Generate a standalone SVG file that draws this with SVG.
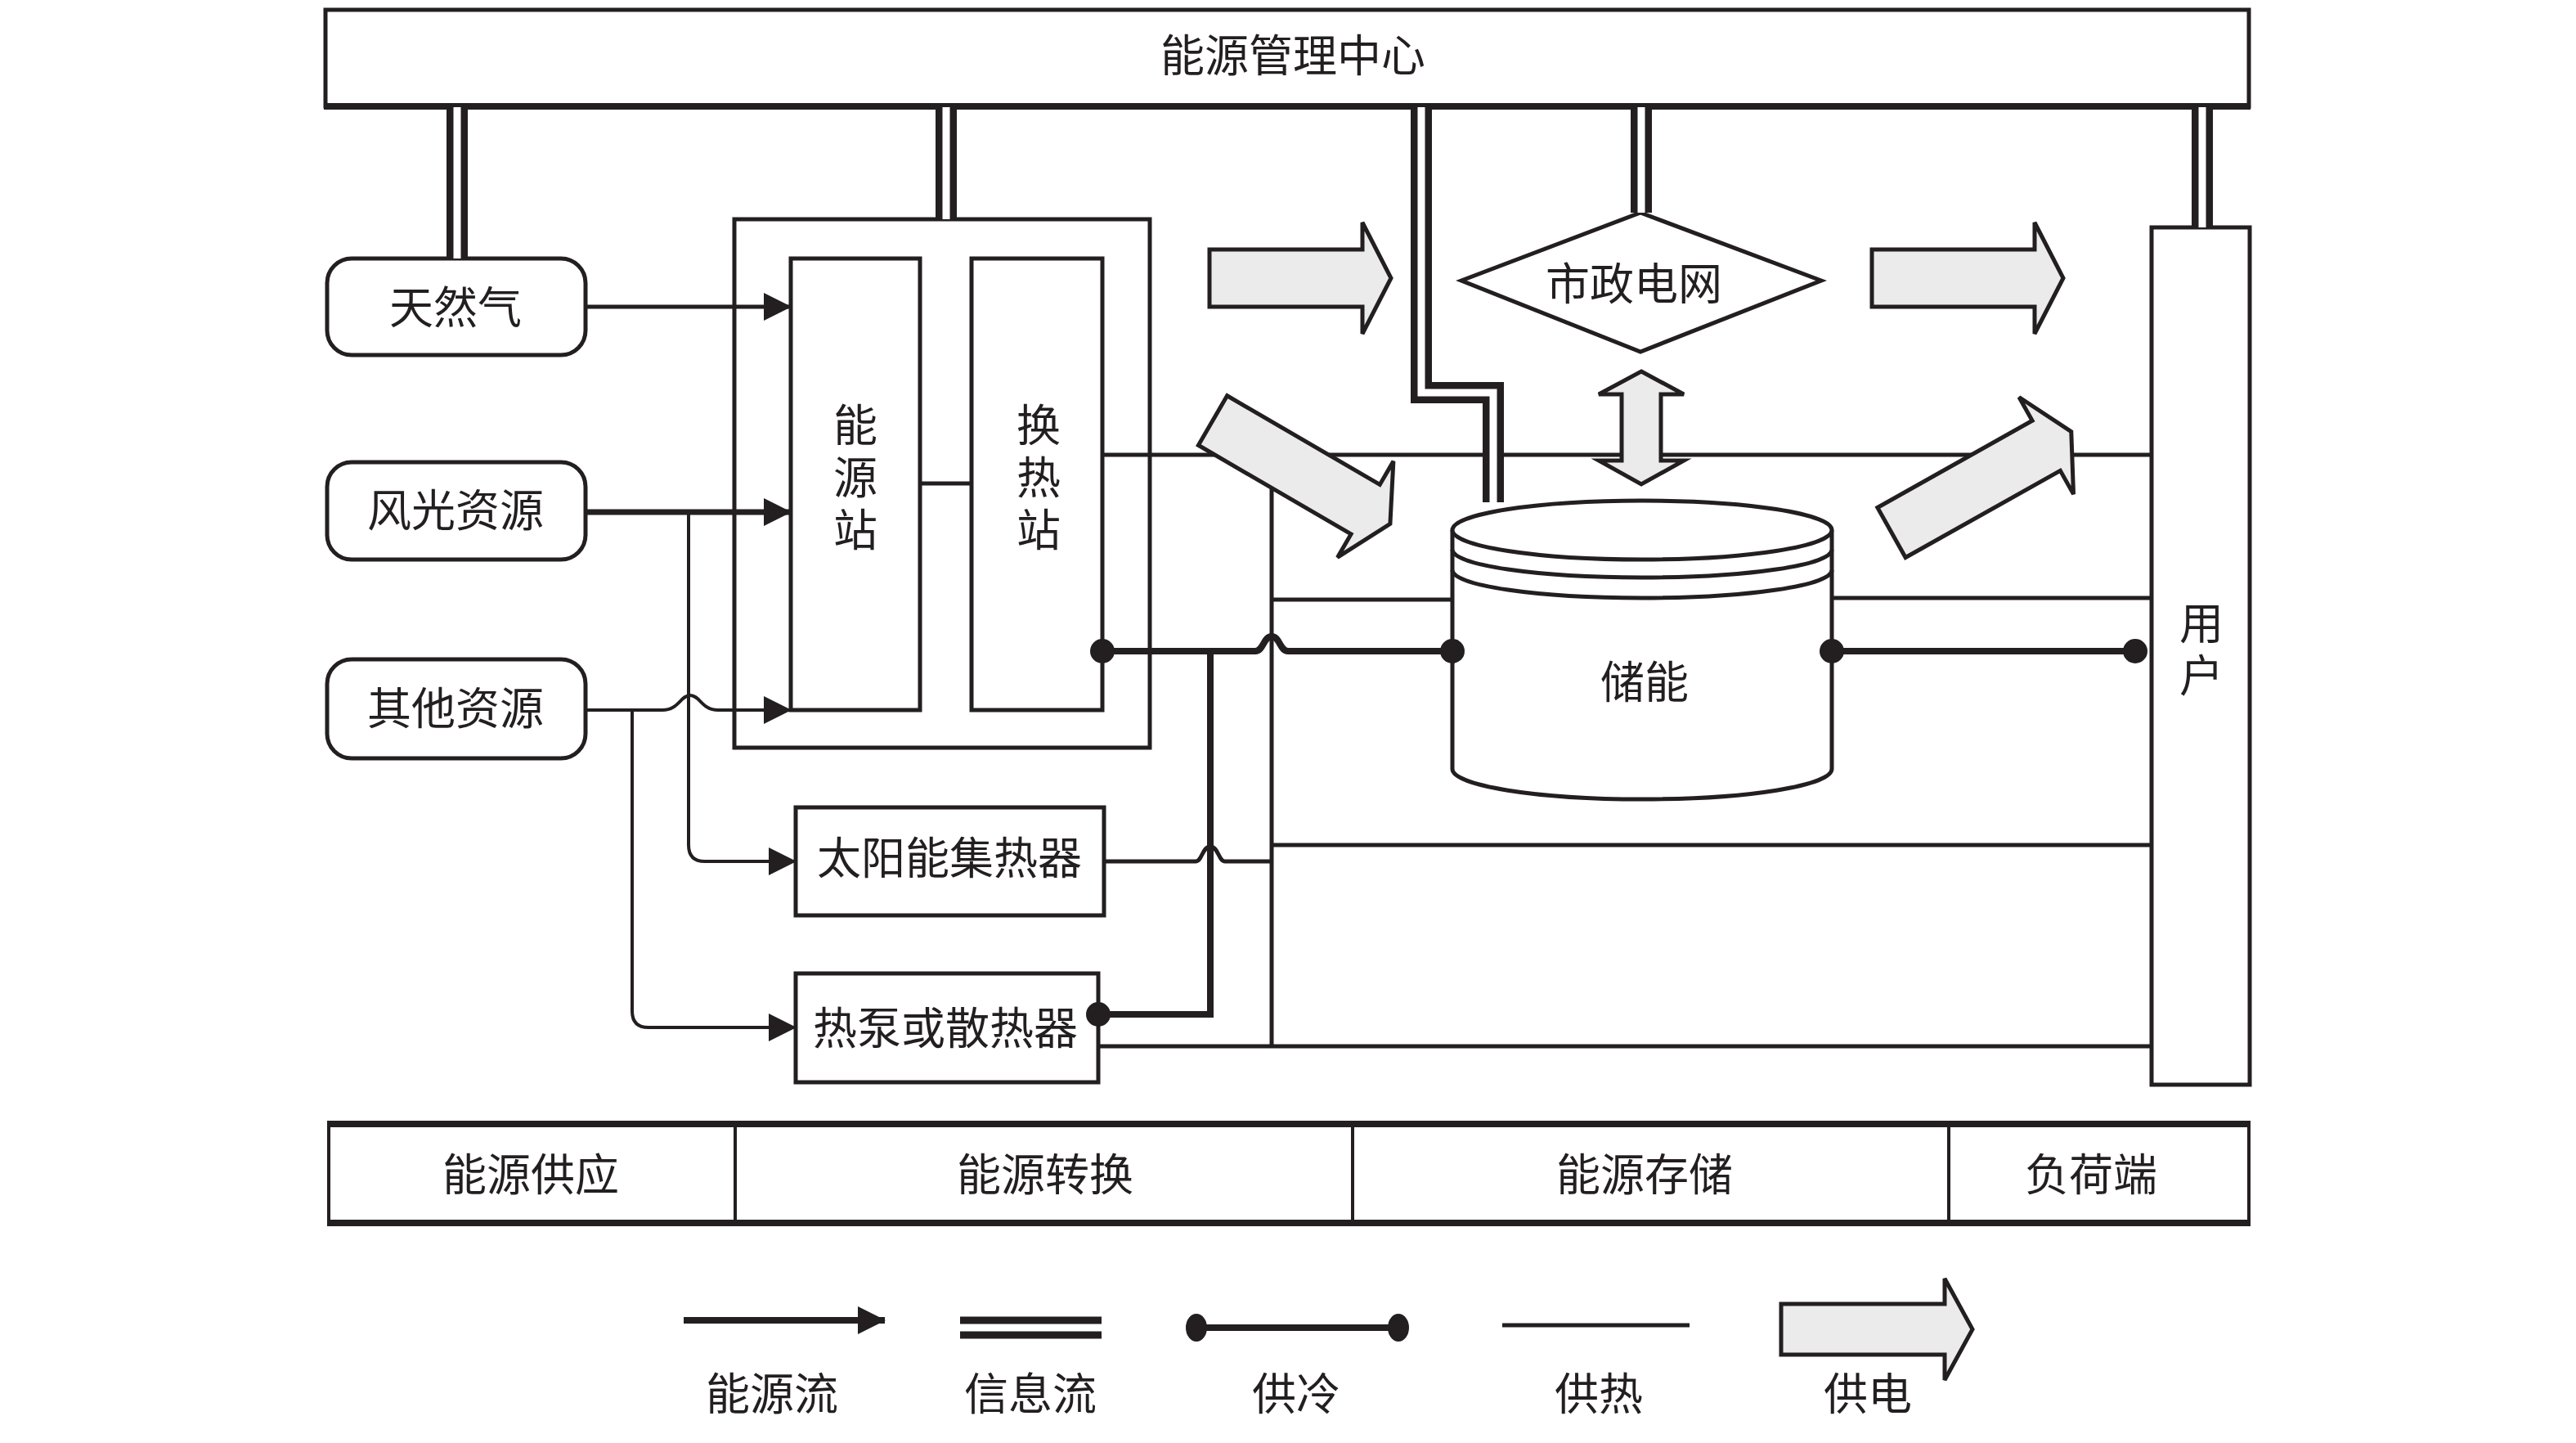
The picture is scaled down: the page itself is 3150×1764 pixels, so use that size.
<svg xmlns="http://www.w3.org/2000/svg" width="3150" height="1764" viewBox="0 0 3150 1764">
<style>
.box{fill:#fff;stroke:#231f20;stroke-width:5}
.t{font-family:"Noto Sans CJK SC","Noto Sans",sans-serif;font-size:54px;fill:#231f20;text-anchor:middle;dominant-baseline:central}
.v{writing-mode:vertical-rl;letter-spacing:10px}
.heat{stroke:#231f20;stroke-width:5;fill:none}
.cool{stroke:#231f20;stroke-width:8;fill:none}
.flow{stroke:#231f20;stroke-width:5;fill:none;marker-end:url(#ah)}
.io{stroke:#231f20;stroke-width:26;fill:none;stroke-linejoin:miter}
.ii{stroke:#fff;stroke-width:9;fill:none;stroke-linejoin:miter}
.pow{fill:#ebebeb;stroke:#231f20;stroke-width:5;stroke-linejoin:miter}
.dot{fill:#231f20}
</style>
<defs>
<marker id="ah" markerUnits="userSpaceOnUse" markerWidth="34" markerHeight="34" viewBox="0 0 34 34" refX="33" refY="17" orient="auto">
<path d="M0,0 L34,17 L0,34 Z" fill="#231f20"/>
</marker>
</defs>
<rect width="3150" height="1764" fill="#fff"/>

<g id="emc">
<rect class="box" x="398" y="12" width="2352" height="118"/>
<line x1="396" y1="130" x2="2752" y2="130" stroke="#231f20" stroke-width="8"/>
<text class="t" x="1581" y="64">能源管理中心</text>
</g>

<g id="natgas">
<rect class="box" x="400" y="316" width="316" height="118" rx="30"/>
<text class="t" x="557" y="372">天然气</text>
</g>
<g id="windsolar">
<rect class="box" x="400" y="565" width="316" height="119" rx="30"/>
<text class="t" x="557" y="620">风光资源</text>
</g>
<g id="other">
<rect class="box" x="400" y="806" width="316" height="121" rx="30"/>
<text class="t" x="557" y="862">其他资源</text>
</g>

<g id="conversion">
<rect x="898" y="268" width="508" height="646" fill="none" stroke="#231f20" stroke-width="5"/>
</g>
<g id="energy-station">
<rect class="box" x="967" y="316" width="158" height="552"/>
<text class="t v" x="1046" y="588">能源站</text>
</g>
<g id="heat-exchange">
<rect class="box" x="1188" y="316" width="160" height="552"/>
<text class="t v" x="1270" y="588">换热站</text>
</g>
<g id="solar">
<rect class="box" x="973" y="987" width="377" height="132"/>
<text class="t" x="1161" y="1045">太阳能集热器</text>
</g>
<g id="heatpump">
<rect class="box" x="973" y="1190" width="370" height="133"/>
<text class="t" x="1156" y="1253">热泵或散热器</text>
</g>

<g id="grid">
<path class="box" d="M2006,260 L2227,343 L2006,430 L1787,343 Z"/>
<text class="t" x="1998" y="343">市政电网</text>
</g>

<g id="storage">
<path class="box" d="M1776,648 V940 A232,37 0 0 0 2240,940 V648"/>
<ellipse class="box" cx="2008" cy="648" rx="232" ry="36"/>
<path d="M1776,672 A232,34 0 0 0 2240,672" fill="none" stroke="#231f20" stroke-width="5"/>
<path d="M1776,697 A232,34 0 0 0 2240,697" fill="none" stroke="#231f20" stroke-width="5"/>
<text class="t" x="2011" y="830">储能</text>
</g>

<g id="user">
<rect class="box" x="2631" y="278" width="120" height="1048"/>
<text class="t v" x="2692" y="798">用户</text>
</g>

<g id="connectors">
<path class="io" d="M559,131 V316"/><path class="ii" d="M559,131 V316"/>
<path class="io" d="M1157,131 V268"/><path class="ii" d="M1157,131 V268"/>
<path class="io" d="M2007,131 V260"/><path class="ii" d="M2007,131 V260"/>
<path class="io" d="M2693,131 V278"/><path class="ii" d="M2693,131 V278"/>
<path class="flow" d="M717,375 H967"/>
<path class="flow" style="stroke-width:7" d="M717,626 H967"/>
<path class="flow" style="stroke-width:4" d="M717,868 H810 C830,868 832,850 844,850 C856,850 858,868 878,868 H967"/>
<path class="flow" style="stroke-width:4" d="M842,626 V1033 Q842,1053 862,1053 H973"/>
<path class="flow" style="stroke-width:4" d="M773,868 V1236 Q773,1256 793,1256 H973"/>
<path class="heat" d="M1125,591 H1188"/>
<path class="heat" d="M1348,556 H2630"/>
<path class="heat" d="M1555,556 V1279"/>
<path class="heat" d="M1555,733 H1776"/>
<path class="heat" d="M2240,731 H2630"/>
<path class="heat" d="M1555,1033 H2630"/>
<path class="heat" d="M1343,1279 H2630"/>
<path class="heat" d="M1350,1053 H1462 C1470,1053 1470,1035 1480,1035 C1490,1035 1490,1053 1498,1053 H1555"/>
<path class="io" d="M1738,131 V480 H1826 V614"/><path class="ii" d="M1738,131 V480 H1826 V614"/>
<path class="cool" d="M1348,796 H1535 C1545,796 1545,778 1555,778 C1565,778 1565,796 1575,796 H1776"/>
<path class="cool" d="M1480,796 V1240 H1343"/>
<path class="cool" d="M2240,796 H2611"/>
<circle class="dot" cx="1348" cy="796" r="15"/>
<circle class="dot" cx="1776" cy="796" r="15"/>
<circle class="dot" cx="2240" cy="796" r="15"/>
<circle class="dot" cx="2611" cy="796" r="15"/>
<circle class="dot" cx="1343" cy="1240" r="15"/>
<path class="pow" transform="translate(1479,340)" d="M0,-35 H187 V-68 L222,0 L187,68 V35 H0 Z"/>
<path class="pow" transform="translate(2289,340)" d="M0,-35 H199 V-68 L234,0 L199,68 V35 H0 Z"/>
<path class="pow" transform="translate(1483,514) rotate(30.2)" d="M0,-35 H216 V-68 L251,0 L216,68 V35 H0 Z"/>
<path class="pow" transform="translate(2313,651) rotate(-29.3)" d="M0,-35 H217 V-68 L252,0 L217,68 V35 H0 Z"/>
<path class="pow" d="M2007,454 L2059,482 L2031,482 L2031,563 L2059,563 L2007,592 L1955,563 L1983,563 L1983,482 L1955,482 Z"/>
</g>

<g id="stages">
<rect x="402" y="1374" width="2348" height="121" fill="#fff" stroke="#231f20" stroke-width="4"/>
<line x1="400" y1="1374" x2="2752" y2="1374" stroke="#231f20" stroke-width="8"/>
<line x1="400" y1="1495" x2="2752" y2="1495" stroke="#231f20" stroke-width="8"/>
<line x1="899" y1="1374" x2="899" y2="1495" stroke="#231f20" stroke-width="4"/>
<line x1="1654" y1="1374" x2="1654" y2="1495" stroke="#231f20" stroke-width="4"/>
<line x1="2383" y1="1374" x2="2383" y2="1495" stroke="#231f20" stroke-width="4"/>
<text class="t" x="649" y="1432">能源供应</text>
<text class="t" x="1278" y="1432">能源转换</text>
<text class="t" x="2011" y="1432">能源存储</text>
<text class="t" x="2557" y="1432">负荷端</text>
</g>

<g id="legend">
<path class="flow" style="stroke-width:8" d="M836,1614 H1082"/>
<line x1="1174" y1="1614" x2="1347" y2="1614" stroke="#231f20" stroke-width="9"/>
<line x1="1174" y1="1632" x2="1347" y2="1632" stroke="#231f20" stroke-width="9"/>
<line x1="1463" y1="1623" x2="1710" y2="1623" stroke="#231f20" stroke-width="8"/>
<ellipse class="dot" cx="1463" cy="1623" rx="13" ry="17"/>
<ellipse class="dot" cx="1710" cy="1623" rx="13" ry="17"/>
<line x1="1837" y1="1620" x2="2066" y2="1620" stroke="#231f20" stroke-width="5"/>
<path class="pow" transform="translate(2178,1625)" d="M0,-31 H200 V-62 L234,0 L200,62 V31 H0 Z"/>
<text class="t" x="944" y="1700">能源流</text>
<text class="t" x="1260" y="1700">信息流</text>
<text class="t" x="1585" y="1700">供冷</text>
<text class="t" x="1955" y="1700">供热</text>
<text class="t" x="2284" y="1700">供电</text>
</g>
</svg>
